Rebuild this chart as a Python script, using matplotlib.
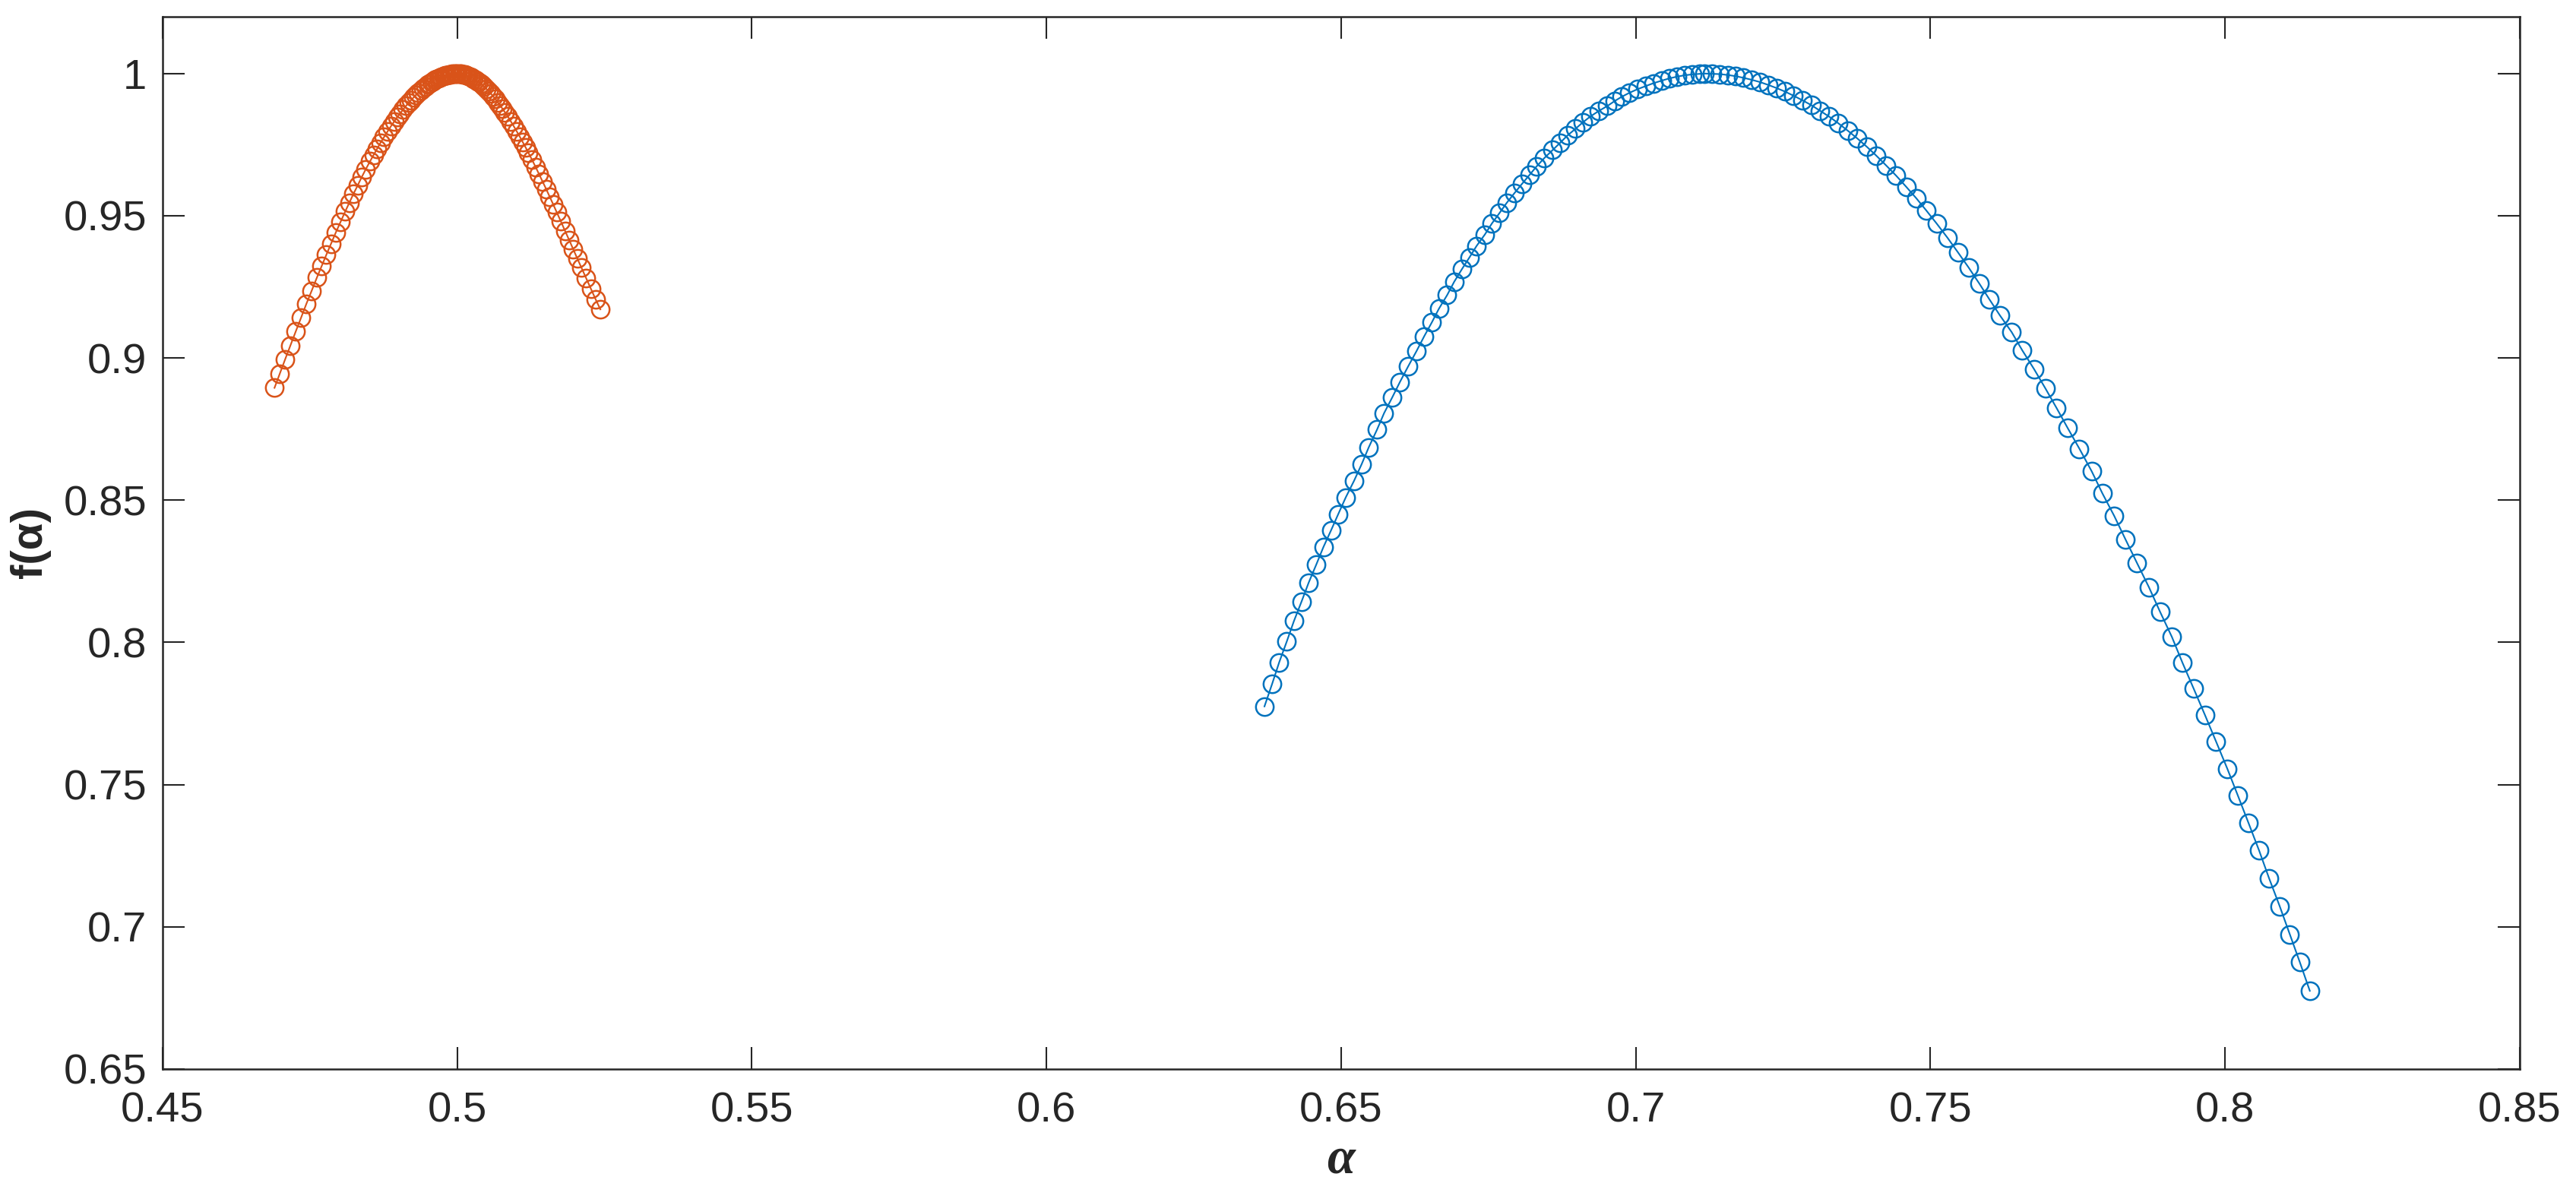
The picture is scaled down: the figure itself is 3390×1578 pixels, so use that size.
import matplotlib
matplotlib.use('Agg')
import matplotlib.pyplot as plt
from matplotlib.ticker import FuncFormatter

# spectrum 1 (blue), alpha and f(alpha)
alpha_blue = [0.6370, 0.6383, 0.6395, 0.6408, 0.6420, 0.6433, 0.6445, 0.6458, 0.6470, 0.6483,
              0.6495, 0.6508, 0.6522, 0.6535, 0.6547, 0.6561, 0.6573, 0.6587, 0.6600, 0.6614,
              0.6628, 0.6641, 0.6654, 0.6666, 0.6680, 0.6692, 0.6705, 0.6718, 0.6730, 0.6744,
              0.6756, 0.6769, 0.6781, 0.6794, 0.6807, 0.6820, 0.6832, 0.6845, 0.6859, 0.6872,
              0.6884, 0.6898, 0.6910, 0.6923, 0.6937, 0.6952, 0.6964, 0.6976, 0.6989, 0.7003,
              0.7017, 0.7030, 0.7044, 0.7057, 0.7070, 0.7083, 0.7096, 0.7109, 0.7117,
              0.7130, 0.7143, 0.7156, 0.7169, 0.7183, 0.7197, 0.7211, 0.7225, 0.7239, 0.7253,
              0.7268, 0.7283, 0.7298, 0.7313, 0.7328, 0.7344, 0.7360, 0.7376, 0.7392, 0.7408,
              0.7425, 0.7442, 0.7459, 0.7476, 0.7493, 0.7511, 0.7529, 0.7547, 0.7565, 0.7583,
              0.7600, 0.7618, 0.7638, 0.7656, 0.7676, 0.7695, 0.7714, 0.7733, 0.7753,
              0.7774, 0.7792, 0.7812, 0.7831, 0.7851, 0.7871, 0.7890, 0.7910, 0.7928, 0.7947,
              0.7966, 0.7985, 0.8004, 0.8022, 0.8040, 0.8058, 0.8075, 0.8093, 0.8110, 0.8127,
              0.8144]
f_blue = [0.7775, 0.7854, 0.7930, 0.8004, 0.8075, 0.8144, 0.8210, 0.8274, 0.8335, 0.8394,
          0.8450, 0.8510, 0.8568, 0.8627, 0.8686, 0.8748, 0.8806, 0.8862, 0.8916, 0.8971,
          0.9024, 0.9076, 0.9125, 0.9173, 0.9221, 0.9268, 0.9312, 0.9354, 0.9394, 0.9434,
          0.9473, 0.9510, 0.9545, 0.9579, 0.9612, 0.9644, 0.9674, 0.9703, 0.9731, 0.9757,
          0.9782, 0.9806, 0.9828, 0.9849, 0.9868, 0.9886, 0.9903, 0.9918, 0.9932, 0.9945,
          0.9956, 0.9966, 0.9975, 0.9983, 0.9989, 0.9994, 0.9997, 0.9999, 1.0000,
          0.9999, 0.9998, 0.9995, 0.9991, 0.9985, 0.9978, 0.9970, 0.9960, 0.9949, 0.9937,
          0.9922, 0.9906, 0.9889, 0.9869, 0.9849, 0.9825, 0.9799, 0.9772, 0.9743, 0.9712,
          0.9677, 0.9641, 0.9602, 0.9562, 0.9519, 0.9472, 0.9423, 0.9371, 0.9318, 0.9262,
          0.9207, 0.9150, 0.9091, 0.9027, 0.8961, 0.8894, 0.8825, 0.8754, 0.8681,
          0.8601, 0.8524, 0.8445, 0.8363, 0.8278, 0.8194, 0.8107, 0.8019, 0.7928, 0.7837,
          0.7745, 0.7651, 0.7556, 0.7461, 0.7365, 0.7268, 0.7170, 0.7072, 0.6974, 0.6876,
          0.6775]

# spectrum 2 (orange)
alpha_orange = [0.4690, 0.4699, 0.4708, 0.4717, 0.4726, 0.4735, 0.4744, 0.4753, 0.4762,
                0.4770, 0.4778, 0.4786, 0.4794, 0.4802, 0.4810,
                0.4817, 0.4824, 0.4831, 0.4838, 0.4845, 0.4852,
                0.4858, 0.4864, 0.4870, 0.4876, 0.4882, 0.4888,
                0.4893, 0.4898, 0.4903, 0.4908, 0.4913, 0.4918,
                0.4922, 0.4926, 0.4930, 0.4934, 0.4938, 0.4942, 0.4946, 0.4950,
                0.4953, 0.4956, 0.4959, 0.4962, 0.4965, 0.4968, 0.4971, 0.4974,
                0.4977, 0.4980, 0.4983, 0.4986, 0.4989, 0.4992, 0.4995, 0.4998, 0.5001,
                0.5004, 0.5007, 0.5010, 0.5013, 0.5016, 0.5019, 0.5022, 0.5025,
                0.5028, 0.5031, 0.5034, 0.5037, 0.5040, 0.5043, 0.5046, 0.5049,
                0.5053, 0.5057, 0.5061, 0.5065, 0.5069, 0.5073, 0.5077, 0.5081,
                0.5086, 0.5091, 0.5096, 0.5101, 0.5106, 0.5111, 0.5116, 0.5121,
                0.5127, 0.5133, 0.5139, 0.5145, 0.5151, 0.5157, 0.5163, 0.5169,
                0.5176, 0.5183, 0.5190, 0.5197, 0.5204, 0.5211,
                0.5219, 0.5227, 0.5235, 0.5243]
f_orange = [0.8895, 0.8945, 0.8995, 0.9044, 0.9093, 0.9141, 0.9190, 0.9236, 0.9283,
            0.9323, 0.9363, 0.9402, 0.9441, 0.9478, 0.9515,
            0.9546, 0.9577, 0.9606, 0.9636, 0.9664, 0.9691,
            0.9713, 0.9735, 0.9757, 0.9777, 0.9797, 0.9816,
            0.9831, 0.9846, 0.9859, 0.9873, 0.9886, 0.9898,
            0.9907, 0.9916, 0.9925, 0.9933, 0.9940, 0.9948, 0.9954, 0.9961,
            0.9965, 0.9969, 0.9973, 0.9977, 0.9980, 0.9984, 0.9987, 0.9989,
            0.9991, 0.9994, 0.9995, 0.9997, 0.9998, 0.9999, 1.0000, 1.0000, 1.0000,
            1.0000, 0.9999, 0.9998, 0.9996, 0.9994, 0.9992, 0.9989, 0.9986,
            0.9982, 0.9978, 0.9974, 0.9969, 0.9964, 0.9959, 0.9953, 0.9947,
            0.9939, 0.9930, 0.9920, 0.9910, 0.9899, 0.9888, 0.9876, 0.9864,
            0.9849, 0.9832, 0.9815, 0.9797, 0.9779, 0.9760, 0.9741, 0.9721,
            0.9697, 0.9672, 0.9646, 0.9620, 0.9594, 0.9567, 0.9540, 0.9512,
            0.9480, 0.9447, 0.9415, 0.9382, 0.9349, 0.9317,
            0.9280, 0.9243, 0.9206, 0.9171]

x_ticks = [0.45, 0.5, 0.55, 0.6, 0.65, 0.7, 0.75, 0.8, 0.85]
y_ticks = [0.65, 0.7, 0.75, 0.8, 0.85, 0.9, 0.95, 1.0]

axcol = '#262626'
plt.rcParams['font.family'] = ['Liberation Sans', 'DejaVu Sans']

fig = plt.figure(figsize=(11.3, 5.26), dpi=300)
ax = fig.add_axes([0.0631, 0.1084, 0.9150, 0.8777])

ax.plot(alpha_blue, f_blue, '-o', color='#0072BD', lw=0.5, ms=5.6,
        mfc='none', mew=0.6)
ax.plot(alpha_orange, f_orange, '-o', color='#D95319', lw=0.5, ms=5.6,
        mfc='none', mew=0.6)

ax.set_xlim(0.45, 0.85)
ax.set_ylim(0.65, 1.02)
ax.set_xticks(x_ticks)
ax.set_yticks(y_ticks)
fmt = FuncFormatter(lambda v, p: '%g' % round(v, 4))
ax.xaxis.set_major_formatter(fmt)
ax.yaxis.set_major_formatter(fmt)

ax.tick_params(direction='in', length=7, width=0.5, colors=axcol,
               labelsize=13.5, top=True, right=True)
ax.tick_params(axis='x', pad=7)
ax.tick_params(axis='y', pad=5)
for s in ax.spines.values():
    s.set_color(axcol)
    s.set_linewidth(0.6)

ax.set_xlabel('α', family='Liberation Serif', style='italic', weight='bold',
              fontsize=16, color=axcol, labelpad=2)
ax.set_ylabel('f(α)', family='Liberation Sans', weight='bold',
              fontsize=14, color=axcol, labelpad=4)

fig.savefig('out.png', dpi=300)
